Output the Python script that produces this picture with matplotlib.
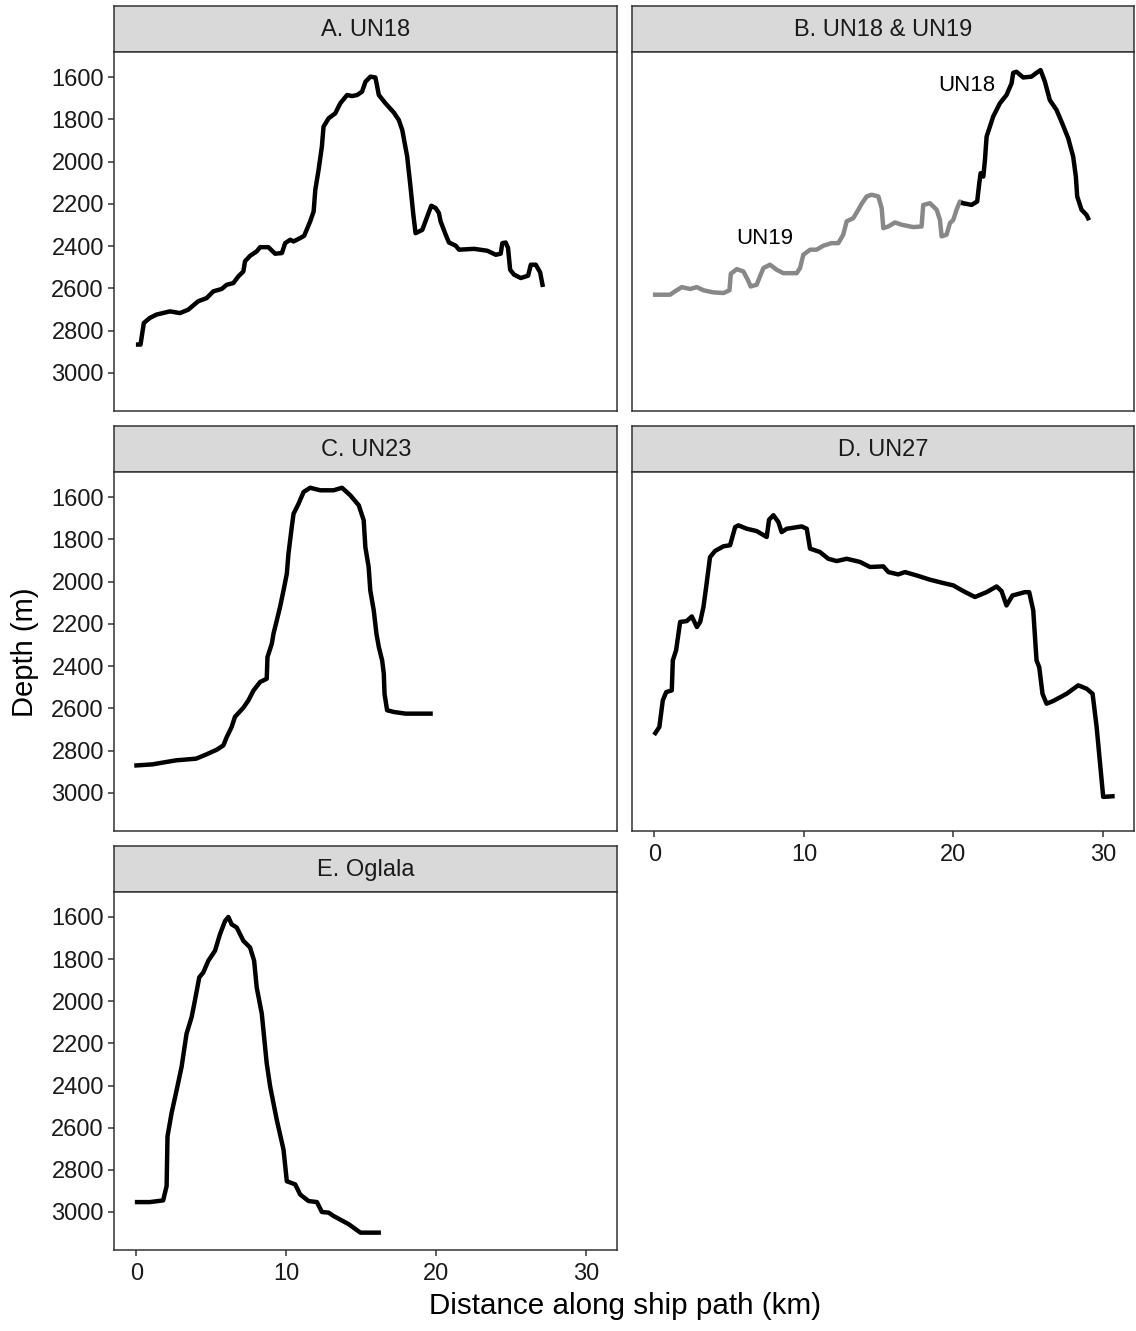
import matplotlib
matplotlib.use("Agg")
import matplotlib.pyplot as plt

plt.rcParams['font.family'] = ['Liberation Sans', 'DejaVu Sans']

# ---- bathymetric profiles: distance along ship path (km) and depth (m) ----
un18_x = [0.11, 0.27, 0.49, 0.89, 1.34, 2.23, 2.90, 3.45, 4.12, 4.68, 5.13, 5.68, 6.02, 6.46,
          6.80, 7.13, 7.24, 7.58, 8.02, 8.25, 8.80, 9.25, 9.70, 9.92, 10.26, 10.48, 10.92,
          11.19, 11.59, 11.82, 11.93, 12.15, 12.37, 12.48, 12.82, 13.26, 13.60, 14.05, 14.38,
          14.72, 15.05, 15.28, 15.61, 15.94, 16.17, 16.61, 17.17, 17.50, 17.73, 18.06, 18.28,
          18.46, 18.62, 19.07, 19.40, 19.67, 19.96, 20.18, 20.29, 20.63, 20.85, 21.30, 21.52,
          22.52, 23.41, 23.97, 24.30, 24.41, 24.63, 24.79, 24.93, 25.19, 25.64, 26.13, 26.31,
          26.64, 26.93, 27.09]
un18_depth = [2866, 2866, 2764, 2740, 2724, 2709, 2717, 2701, 2661, 2646, 2614, 2603, 2583, 2575,
              2543, 2520, 2472, 2446, 2425, 2405, 2405, 2436, 2433, 2386, 2370, 2378, 2362,
              2351, 2283, 2236, 2134, 2039, 1929, 1835, 1795, 1772, 1724, 1685, 1690,
              1685, 1669, 1622, 1598, 1602, 1685, 1724, 1768, 1803, 1850, 1976, 2118,
              2244, 2339, 2323, 2260, 2209, 2220, 2244, 2283, 2346, 2383, 2398, 2417,
              2413, 2422, 2441, 2436, 2386, 2383, 2409, 2512, 2535, 2551, 2540, 2488,
              2488, 2524, 2583]

un19_x = [0.05, 1.05, 1.38, 1.83, 2.39, 2.83, 3.28, 3.94, 4.62, 5.02, 5.11, 5.51, 5.95, 6.24,
          6.44, 6.84, 7.06, 7.29, 7.73, 8.18, 8.62, 9.52, 9.74, 9.96, 10.41, 10.85, 11.30,
          11.85, 12.30, 12.63, 12.86, 13.30, 13.64, 13.86, 14.20, 14.53, 14.98, 15.20, 15.31,
          15.65, 16.09, 16.54, 17.32, 17.87, 17.98, 18.43, 18.88, 19.10, 19.21, 19.54, 19.77,
          19.99, 20.21, 20.43, 20.66]
un19_depth = [2630, 2630, 2614, 2594, 2603, 2594, 2609, 2619, 2622, 2609, 2531, 2509, 2520, 2559,
              2591, 2583, 2543, 2504, 2488, 2512, 2528, 2528, 2504, 2441, 2417, 2417, 2398,
              2386, 2386, 2346, 2283, 2268, 2228, 2200, 2165, 2157, 2165, 2220, 2315,
              2307, 2288, 2299, 2310, 2307, 2205, 2197, 2228, 2276, 2354, 2346, 2291,
              2276, 2228, 2189, 2197]

# UN18 continued beyond the UN19 line in the combined transect
un18b_x = [20.66, 21.21, 21.59, 21.73, 21.82, 22.00, 22.11, 22.22, 22.66, 23.11, 23.55, 23.89,
           24.00, 24.22, 24.67, 25.22, 25.56, 25.83, 26.12, 26.45, 26.90, 27.23, 27.68, 28.01,
           28.19, 28.28, 28.57, 28.90, 29.01]
un18b_depth = [2197, 2205, 2189, 2102, 2055, 2071, 1992, 1882, 1787, 1724, 1685, 1630,
               1580, 1575, 1602, 1598, 1580, 1567, 1622, 1709, 1756, 1811, 1890, 1976,
               2071, 2165, 2228, 2252, 2268]

un23_x = [0.0, 1.07, 1.97, 2.64, 3.98, 4.66, 5.35, 5.80, 6.02, 6.35, 6.57, 7.13, 7.47, 7.81,
          8.25, 8.69, 8.74, 9.03, 9.14, 9.36, 9.58, 9.81, 10.03, 10.14, 10.36, 10.48, 10.81,
          11.15, 11.59, 12.26, 13.15, 13.71, 14.27, 14.83, 15.16, 15.27, 15.49, 15.60, 15.83,
          16.01, 16.17, 16.39, 16.50, 16.55, 16.72, 17.17, 17.95, 19.62]
un23_depth = [2870, 2865, 2854, 2846, 2838, 2818, 2796, 2775, 2736, 2688, 2640, 2597, 2562, 2515,
              2475, 2460, 2357, 2294, 2247, 2184, 2120, 2042, 1963, 1868, 1742, 1679, 1632,
              1576, 1556, 1568, 1568, 1556, 1592, 1639, 1710, 1837, 1931, 2042, 2136,
              2247, 2310, 2373, 2436, 2531, 2609, 2617, 2625, 2625]

un27_x = [0.06, 0.33, 0.56, 0.79, 1.16, 1.23, 1.45, 1.72, 2.16, 2.50, 2.84, 3.06, 3.28, 3.46,
          3.72, 4.06, 4.62, 5.06, 5.40, 5.62, 6.18, 6.84, 7.51, 7.67, 7.96, 8.29, 8.51, 8.85,
          9.85, 10.19, 10.41, 11.07, 11.63, 12.19, 12.86, 13.75, 14.42, 15.31, 15.65, 16.31,
          16.76, 17.54, 18.43, 19.32, 19.99, 20.66, 21.44, 22.22, 22.89, 23.22, 23.55, 23.95,
          24.78, 25.07, 25.34, 25.56, 25.74, 25.96, 26.23, 26.68, 27.57, 28.35, 28.91, 29.31,
          29.58, 30.02, 30.64]
un27_depth = [2717, 2688, 2562, 2523, 2515, 2373, 2325, 2191, 2187, 2165, 2215, 2191, 2120, 2026,
              1884, 1855, 1833, 1828, 1742, 1734, 1750, 1761, 1789, 1707, 1686, 1718, 1766, 1750,
              1739, 1750, 1844, 1860, 1892, 1903, 1892, 1907, 1931, 1928, 1955, 1966,
              1955, 1971, 1991, 2007, 2018, 2045, 2073, 2050, 2023, 2045, 2113, 2066,
              2050, 2050, 2136, 2373, 2405, 2531, 2578, 2565, 2531, 2491, 2507, 2531,
              2688, 3019, 3016]

oglala_x = [0.04, 0.89, 1.78, 2.01, 2.07, 2.34, 2.68, 3.01, 3.34, 3.68, 3.90, 4.19, 4.46, 4.79,
            5.24, 5.57, 5.91, 6.13, 6.35, 6.69, 7.13, 7.58, 7.85, 8.02, 8.36, 8.69, 8.92, 9.36,
            9.81, 10.03, 10.59, 10.92, 11.48, 12.04, 12.37, 12.82, 13.15, 14.16, 14.94, 16.16]
oglala_depth = [2953, 2953, 2945, 2877, 2641, 2531, 2421, 2311, 2154, 2075, 1996, 1886, 1863, 1808,
                1760, 1682, 1619, 1600, 1635, 1650, 1713, 1745, 1808, 1934, 2059, 2295, 2405, 2563,
                2704, 2854, 2869, 2917, 2948, 2953, 3000, 3003, 3019, 3058, 3098, 3098]

panel_titles = ["A. UN18", "B. UN18 & UN19", "C. UN23", "D. UN27", "E. Oglala"]
x_ticks = [0, 10, 20, 30]
y_ticks = [1600, 1800, 2000, 2200, 2400, 2600, 2800, 3000]

# ---- layout (pixel geometry of the facet grid) ----
W, H = 1136, 1331
fig = plt.figure(figsize=(W / 100, H / 100), dpi=100)

cols = [(114.3, 617.3), (632.3, 1134.0)]
rows = [(6.0, 51.7, 410.5), (426.0, 471.7, 830.5), (846.0, 891.7, 1249.5)]

BORDER = '#333333'
STRIP_BG = '#d9d9d9'
TXT = '#1a1a1a'


def frac(x0, y0, x1, y1):
    return [x0 / W, 1 - y1 / H, (x1 - x0) / W, (y1 - y0) / H]


def make_panel(col, row, title, show_x, show_y):
    x0, x1 = cols[col]
    s0, p0, p1 = rows[row]
    sax = fig.add_axes(frac(x0, s0, x1, p0))
    sax.set_facecolor(STRIP_BG)
    sax.set_xticks([])
    sax.set_yticks([])
    for sp in sax.spines.values():
        sp.set_color(BORDER)
        sp.set_linewidth(1.1)
    sax.text(0.5, 0.47, title, transform=sax.transAxes, ha='center', va='center',
             fontsize=17, color=TXT)

    ax = fig.add_axes(frac(x0, p0, x1, p1))
    ax.set_xlim(-1.48, 32.08)
    ax.set_ylim(3178, 1480)
    for sp in ax.spines.values():
        sp.set_color(BORDER)
        sp.set_linewidth(1.1)
    ax.tick_params(length=4.5, width=1.1, color=BORDER, labelsize=17,
                   labelcolor=TXT)
    ax.tick_params(axis='x', pad=5)
    ax.tick_params(axis='y', pad=3)
    if show_x:
        ax.set_xticks(x_ticks)
    else:
        ax.set_xticks([])
    if show_y:
        ax.set_yticks(y_ticks)
    else:
        ax.set_yticks([])
    return ax


LW = 3.2
axA = make_panel(0, 0, panel_titles[0], False, True)
axA.plot(un18_x, un18_depth, color='black', lw=LW, solid_joinstyle='round')

axB = make_panel(1, 0, panel_titles[1], False, False)
axB.plot(un19_x, un19_depth, color='#888888', lw=LW, solid_joinstyle='round')
axB.plot(un18b_x, un18b_depth, color='black', lw=LW, solid_joinstyle='round')
axB.text(20.88, 1638, "UN18", ha='center', va='center', fontsize=16, color='black')
axB.text(7.40, 2362, "UN19", ha='center', va='center', fontsize=16, color='black')

axC = make_panel(0, 1, panel_titles[2], False, True)
axC.plot(un23_x, un23_depth, color='black', lw=LW, solid_joinstyle='round')

axD = make_panel(1, 1, panel_titles[3], True, False)
axD.plot(un27_x, un27_depth, color='black', lw=LW, solid_joinstyle='round')

axE = make_panel(0, 2, panel_titles[4], True, True)
axE.plot(oglala_x, oglala_depth, color='black', lw=LW, solid_joinstyle='round')

fig.text(625 / W, 1 - 1306 / H, "Distance along ship path (km)", ha='center', va='center',
         fontsize=21.3, color='black')
fig.text(25 / W, 1 - 652 / H, "Depth (m)", ha='center', va='center', rotation=90,
         fontsize=21, color='black')

fig.savefig("out.png", dpi=100, facecolor='white')
